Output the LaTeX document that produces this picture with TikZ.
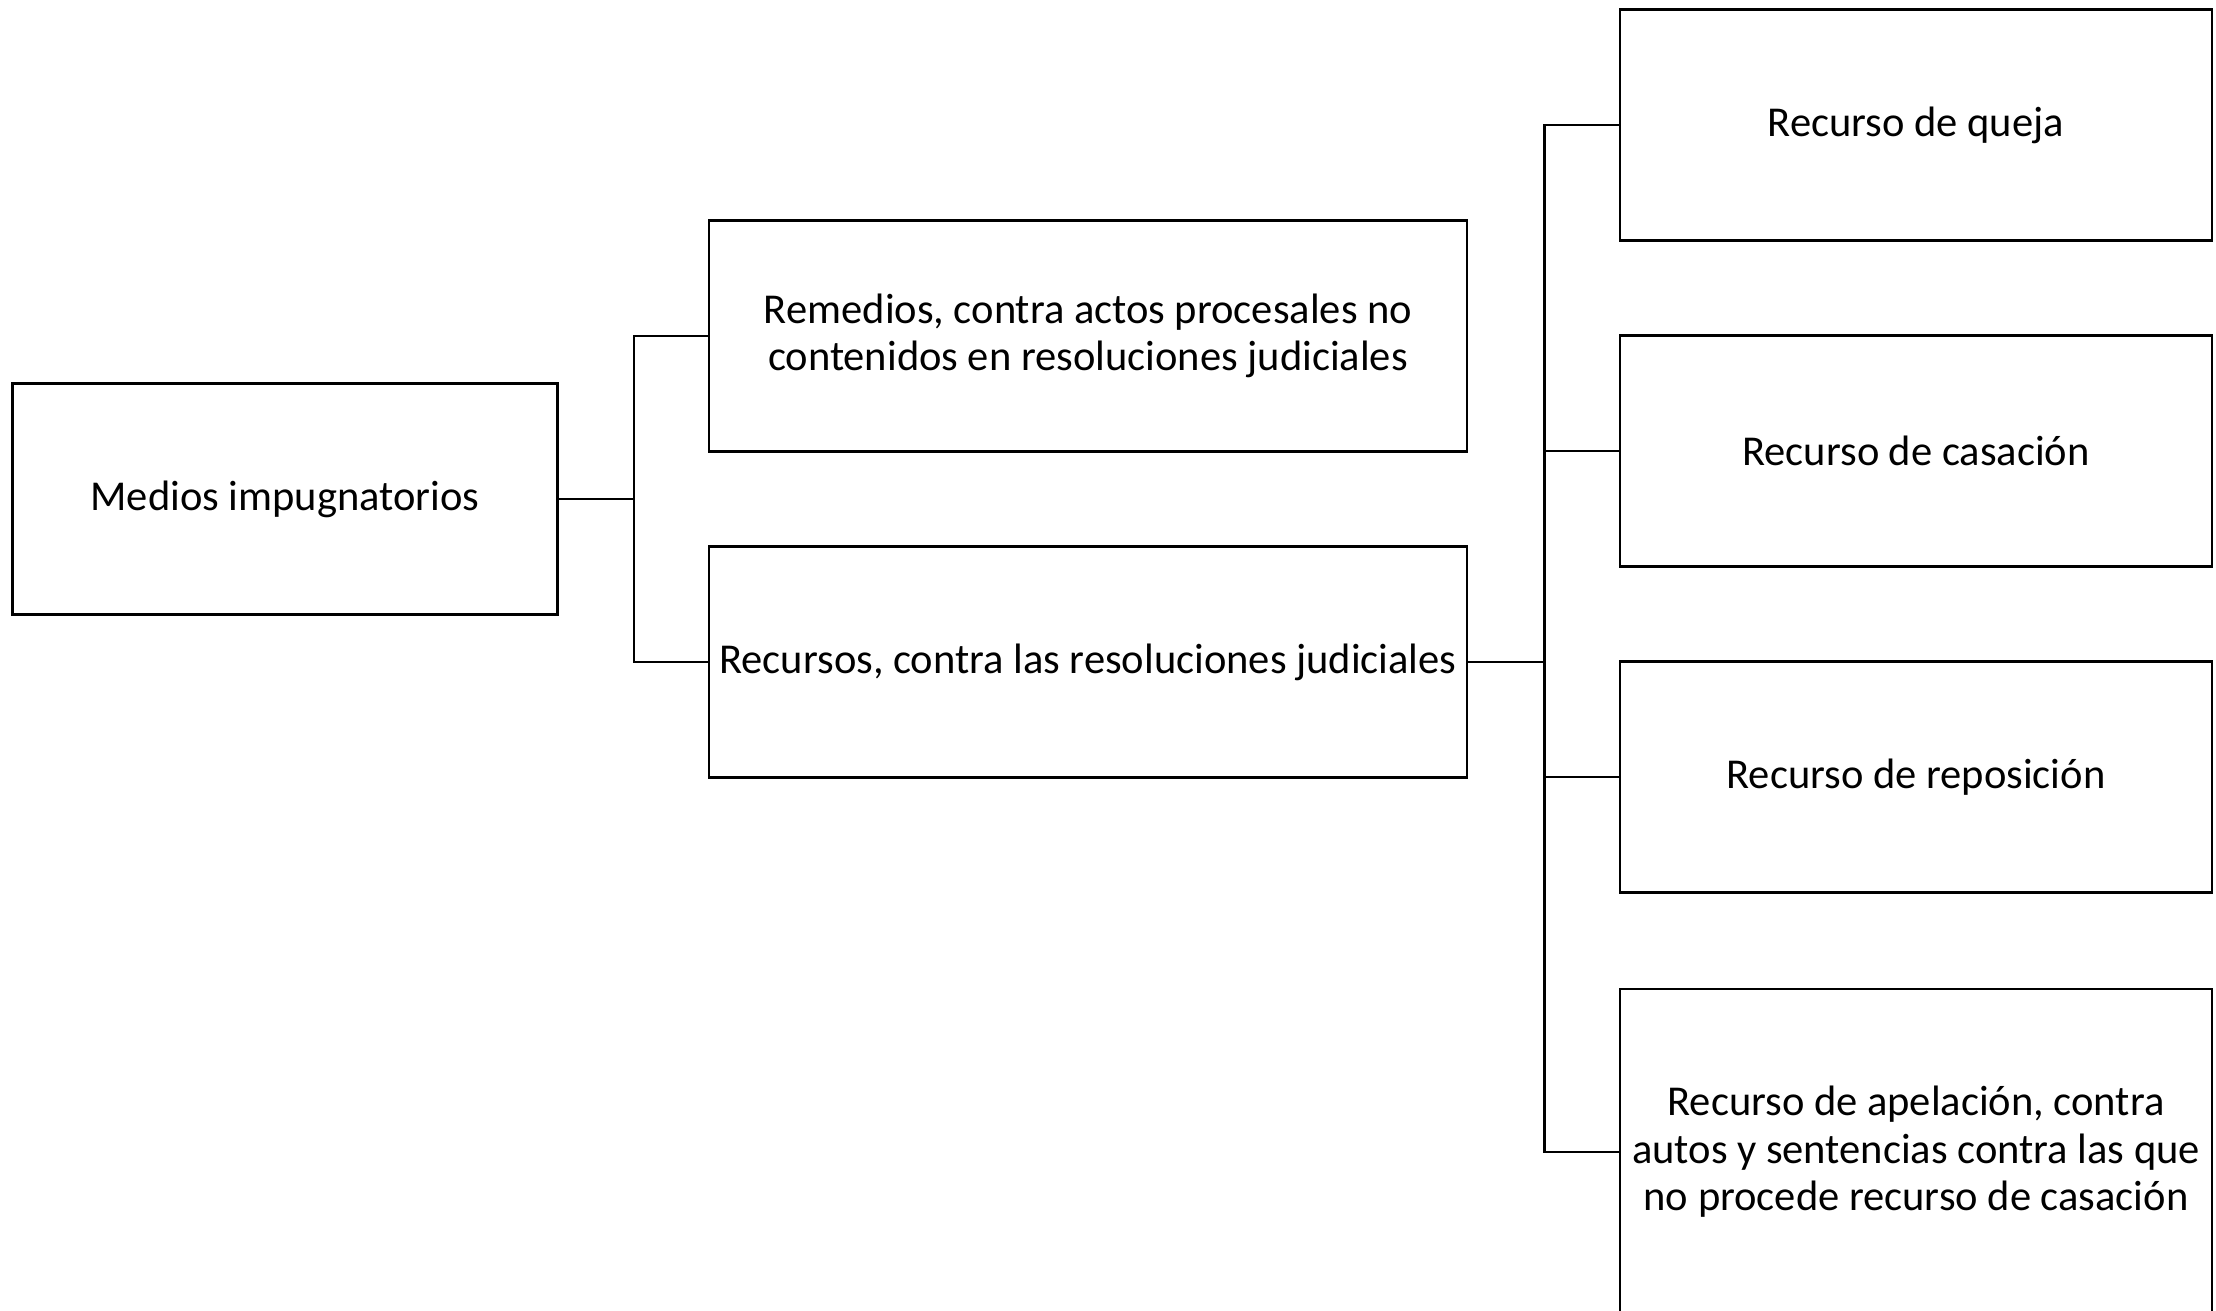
\documentclass[tikz,border=0pt]{standalone}
\usepackage{fontspec}
\setmainfont{Carlito}
\begin{document}
\begin{tikzpicture}

			\useasboundingbox (0,0) rectangle (22.16,13.11);

			\tikzstyle{caja}=[fill=white,draw=black,line width=0.8pt,
				minimum height=2.31cm,inner sep=2pt,
				align=center,font=\fontsize{12.1}{13.5}\selectfont]
			\tikzstyle{raiz}=[caja,minimum width=5.45cm]
			\tikzstyle{rama}=[caja,minimum width=7.58cm]
			\tikzstyle{hoja}=[caja,minimum width=5.92cm,
				node distance=3.26cm]
			\tikzstyle{enlace}=[draw=black,line width=0.8pt]

			\node[raiz]	(medios)	at (2.85,8.12)	{Medios impugnatorios};
			\node[rama]	(remedios)	at (10.88,9.75)	{Remedios, contra actos procesales no\\contenidos en resoluciones judiciales};
			\node[rama]	(recursos)	at (10.88,6.49)	{Recursos, contra las resoluciones judiciales};
			\node[hoja]	(queja)	at (19.16,11.86)	{Recurso de queja};
			\node[hoja,below of=queja]	(casacion)	{Recurso de casación};
			\node[hoja,below of=casacion]	(reposicion)	{Recurso de reposición};
			\node[hoja,minimum height=3.26cm,below of=reposicion,node distance=3.75cm]	(apelacion)
				{Recurso de apelación, contra\\autos y sentencias contra las que\\no procede recurso de casación};

			\draw[enlace] (medios.east) -- ++(0.75,0) |- (remedios.west);
			\draw[enlace] (medios.east) -- ++(0.75,0) |- (recursos.west);
			\foreach \h in {queja,casacion,reposicion,apelacion}
				\draw[enlace] (recursos.east) -- ++(0.76,0) |- (\h.west);

			\end{tikzpicture}
\end{document}
